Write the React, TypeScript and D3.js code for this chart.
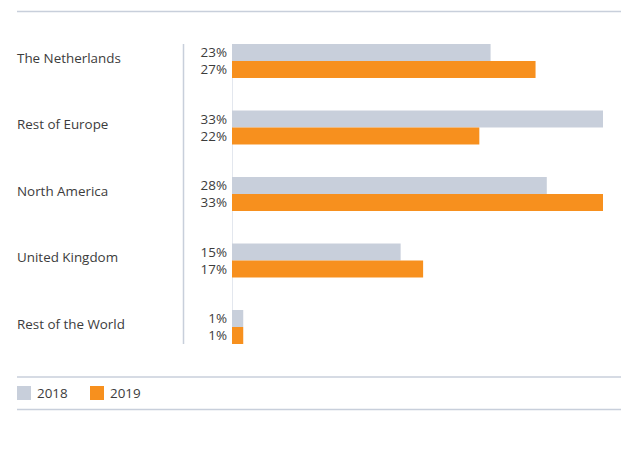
import React from "react";
import * as d3 from "d3";

const categories = ["The Netherlands", "Rest of Europe", "North America", "United Kingdom", "Rest of the World"];
const series2018 = [23, 33, 28, 15, 1];
const series2019 = [27, 22, 33, 17, 1];
const seriesNames = ["2018", "2019"];
const colors = ["#c8cfdb", "#f7901e"];

const W = 621;
const H = 450;

export default function App() {
  const x = d3.scaleLinear().domain([0, 33]).range([232, 603]);
  const y = d3.scaleBand<string>().domain(categories).range([44, 344]).paddingInner(0.489).paddingOuter(0);
  const bh = y.bandwidth() / 2;
  const font = "'Open Sans', sans-serif";
  const textColor = "#3c3c3c";
  const lineColor = "#c8cfdb";
  const data = [series2018, series2019];

  return (
    <svg width={W} height={H} style={{ position: "absolute", left: 0, top: 0 }} fontFamily={font}>
      <line x1={17} x2={621} y1={11.5} y2={11.5} stroke={lineColor} strokeWidth={1.5} />
      <line x1={183.5} x2={183.5} y1={44} y2={344} stroke={lineColor} strokeWidth={1.5} />
      <line x1={x(0) + 0.5} x2={x(0) + 0.5} y1={44} y2={344} stroke="#e3e7ee" strokeWidth={1} />
      {categories.map((c, i) => {
        const y0 = y(c)!;
        return (
          <g key={c}>
            <text x={17} y={y0 + bh - 3} dy="0.35em" fontSize={13.4} fill={textColor}>
              {c}
            </text>
            {data.map((s, j) => (
              <g key={j}>
                <rect x={x(0)} y={y0 + j * bh} width={x(s[i]) - x(0)} height={bh} fill={colors[j]} />
                <text x={227} y={y0 + j * bh + bh / 2} dy="0.35em" textAnchor="end" fontSize={13.4} fill={textColor}>
                  {s[i]}%
                </text>
              </g>
            ))}
          </g>
        );
      })}
      <line x1={17} x2={621} y1={377} y2={377} stroke={lineColor} strokeWidth={1.5} />
      <line x1={17} x2={621} y1={409.5} y2={409.5} stroke={lineColor} strokeWidth={1.5} />
      {seriesNames.map((n, j) => (
        <g key={n} transform={`translate(${17 + j * 73},386)`}>
          <rect x={0} y={0} width={14} height={14} fill={colors[j]} />
          <text x={20} y={7} dy="0.35em" fontSize={13.4} fill={textColor}>
            {n}
          </text>
        </g>
      ))}
    </svg>
  );
}
